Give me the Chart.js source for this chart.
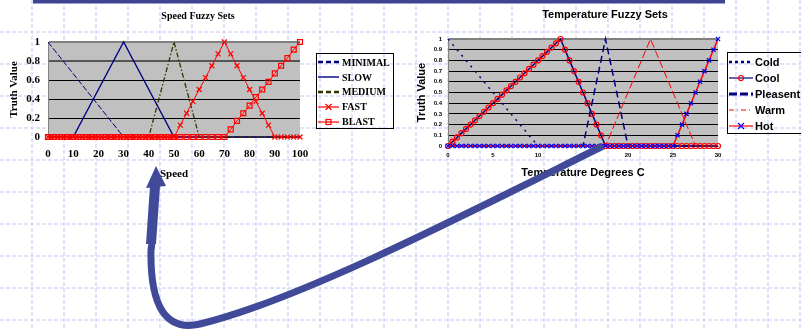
<!DOCTYPE html>
<html>
<head>
<meta charset="utf-8">
<script src="https://cdn.jsdelivr.net/npm/chart.js@4.4.1/dist/chart.umd.min.js"></script>
<style>
  html, body { margin: 0; padding: 0; width: 801px; height: 329px; overflow: hidden; background: #fff; }
  #bg, #arrow { position: absolute; left: 0; top: 0; }
  #arrow { z-index: 3; pointer-events: none; }
  #speedChart { position: absolute; left: 0; top: 0; z-index: 1; }
  #tempChart { position: absolute; left: 400px; top: 0; z-index: 1; }
  .legend { position: absolute; z-index: 2; box-sizing: border-box; border: 1px solid #000; }
  .legend .item { display: flex; align-items: center; white-space: nowrap; }
  .legend svg { flex: none; }
  #speedLegend { left: 316px; top: 53px; width: 78px; height: 76px; padding-top: 1px; padding-left: 1px;
    font: bold 10px 'Liberation Serif', 'Times New Roman', serif; }
  #speedLegend .item { height: 14.8px; }
  #speedLegend svg { margin-right: 3px; }
  #tempLegend { left: 727px; top: 52px; width: 92px; height: 82px; padding-top: 1px; padding-left: 1px;
    font: bold 11px 'Liberation Sans', Arial, sans-serif; }
  #tempLegend .item { height: 16px; }
  #tempLegend svg { margin-right: 2px; }
</style>
</head>
<body>
<svg id="bg" width="801" height="329"></svg>
<canvas id="speedChart" width="396" height="185"></canvas>
<canvas id="tempChart" width="410" height="185"></canvas>
<div id="speedLegend" class="legend"></div>
<div id="tempLegend" class="legend"></div>
<svg id="arrow" width="801" height="329">
  <path d="M603 146 C470 212 300 300 200 324 C165 332 150 305 151 250 L152 243" fill="none" stroke="#414a99" stroke-width="7"/>
  <polygon points="146,244 156,244 160,186 150,186" fill="#414a99"/>
  <polygon points="146,188 166,186 156,166" fill="#414a99"/>
</svg>
<script>
// ---- speed chart data ----
const speedTicks = [0, 10, 20, 30, 40, 50, 60, 70, 80, 90, 100];
const speedTruthTicks = [0, 0.2, 0.4, 0.6, 0.8, 1];
const speedNames = ['MINIMAL', 'SLOW', 'MEDIUM', 'FAST', 'BLAST'];

const minimalX = [0, 30, 100];
const minimalY = [1, 0, 0];
const slowX = [0, 10, 30, 50, 100];
const slowY = [0, 0, 1, 0, 0];
const mediumX = [0, 40, 50, 60, 100];
const mediumY = [0, 0, 1, 0, 0];

// FAST and BLAST have a marker on every sample
const speedSteps = [0, 2.5, 5, 7.5, 10, 12.5, 15, 17.5, 20, 22.5, 25, 27.5, 30, 32.5, 35, 37.5, 40, 42.5, 45, 47.5,
  50, 52.5, 55, 57.5, 60, 62.5, 65, 67.5, 70, 72.5, 75, 77.5, 80, 82.5, 85, 87.5, 90, 92.5, 95, 97.5, 100];
const fastY = [0, 0, 0, 0, 0, 0, 0, 0, 0, 0, 0, 0, 0, 0, 0, 0, 0, 0, 0, 0,
  0, 0.125, 0.25, 0.375, 0.5, 0.625, 0.75, 0.875, 1, 0.875, 0.75, 0.625, 0.5, 0.375, 0.25, 0.125, 0, 0, 0, 0, 0];
const blastY = [0, 0, 0, 0, 0, 0, 0, 0, 0, 0, 0, 0, 0, 0, 0, 0, 0, 0, 0, 0,
  0, 0, 0, 0, 0, 0, 0, 0, 0, 0.08, 0.17, 0.25, 0.33, 0.42, 0.5, 0.58, 0.67, 0.75, 0.83, 0.92, 1];

// ---- temperature chart data ----
const tempTicks = [0, 5, 10, 15, 20, 25, 30];
const tempTruthTicks = [0, 0.1, 0.2, 0.3, 0.4, 0.5, 0.6, 0.7, 0.8, 0.9, 1];
const tempNames = ['Cold', 'Cool', 'Pleasent', 'Warm', 'Hot'];

const coldX = [0, 10, 30];
const coldY = [1, 0, 0];
const pleasentX = [0, 15, 17.5, 20, 30];
const pleasentY = [0, 0, 1, 0, 0];
const warmX = [0, 17.5, 22.5, 27.5, 30];
const warmY = [0, 0, 1, 0, 0];

const tempSteps = [0, 0.5, 1, 1.5, 2, 2.5, 3, 3.5, 4, 4.5, 5, 5.5, 6, 6.5, 7, 7.5, 8, 8.5, 9, 9.5,
  10, 10.5, 11, 11.5, 12, 12.5, 13, 13.5, 14, 14.5, 15, 15.5, 16, 16.5, 17, 17.5, 18, 18.5, 19, 19.5,
  20, 20.5, 21, 21.5, 22, 22.5, 23, 23.5, 24, 24.5, 25, 25.5, 26, 26.5, 27, 27.5, 28, 28.5, 29, 29.5, 30];
const coolY = [0, 0.04, 0.08, 0.12, 0.16, 0.2, 0.24, 0.28, 0.32, 0.36, 0.4, 0.44, 0.48, 0.52, 0.56, 0.6,
  0.64, 0.68, 0.72, 0.76, 0.8, 0.84, 0.88, 0.92, 0.96, 1,
  0.9, 0.8, 0.7, 0.6, 0.5, 0.4, 0.3, 0.2, 0.1, 0,
  0, 0, 0, 0, 0, 0, 0, 0, 0, 0, 0, 0, 0, 0, 0, 0, 0, 0, 0, 0, 0, 0, 0, 0, 0];
const hotY = [0, 0, 0, 0, 0, 0, 0, 0, 0, 0, 0, 0, 0, 0, 0, 0, 0, 0, 0, 0, 0, 0, 0, 0, 0,
  0, 0, 0, 0, 0, 0, 0, 0, 0, 0, 0, 0, 0, 0, 0, 0, 0, 0, 0, 0, 0, 0, 0, 0, 0, 0,
  0.1, 0.2, 0.3, 0.4, 0.5, 0.6, 0.7, 0.8, 0.9, 1];

const SERIF = "'Liberation Serif', 'Times New Roman', serif";
const SANS = "'Liberation Sans', Arial, sans-serif";
const NAVY = '#000080';
const RED = '#ff0000';

const pts = (xs, ys) => xs.map((x, i) => ({ x: x, y: ys[i] }));

const speedSeries = [
  { data: pts(minimalX, minimalY), color: NAVY, width: 1, dash: [6, 2], legendWidth: 2.5, legendDash: [5, 3] },
  { data: pts(slowX, slowY), color: NAVY, width: 1.3, legendColor: '#4b4ba8', legendWidth: 2 },
  { data: pts(mediumX, mediumY), color: '#333300', width: 1.3, dash: [5, 2, 1.5, 2], legendWidth: 2.5, legendDash: [5, 3] },
  { data: pts(speedSteps, fastY), color: RED, width: 1, marker: 'crossRot', radius: 3.5, legendWidth: 1.2 },
  { data: pts(speedSteps, blastY), color: RED, width: 1, marker: 'rect', radius: 3.5, legendWidth: 1.2 }
];
speedSeries.forEach((s, i) => { s.label = speedNames[i]; });

const tempSeries = [
  { data: pts(coldX, coldY), color: NAVY, width: 1.5, dash: [2, 5], legendWidth: 2.5, legendDash: [3, 3] },
  { data: pts(tempSteps, coolY), color: NAVY, width: 1.5, marker: 'circle', markerColor: RED, radius: 2.5, legendWidth: 1.2 },
  { data: pts(pleasentX, pleasentY), color: NAVY, width: 1.5, dash: [7, 4], legendWidth: 3, legendDash: [8, 3] },
  { data: pts(warmX, warmY), color: RED, width: 1, dash: [8, 3], legendWidth: 1, legendDash: [5, 3, 1, 3] },
  { data: pts(tempSteps, hotY), color: RED, width: 1.5, marker: 'crossRot', markerColor: '#0000ff', radius: 3, legendWidth: 1.2 }
];
tempSeries.forEach((s, i) => { s.label = tempNames[i]; });

// Excel draws the last series on top; in Chart.js a lower order is drawn later
function toDataset(s, i, all) {
  return {
    label: s.label,
    data: s.data,
    showLine: true,
    borderColor: s.color,
    borderWidth: s.width,
    borderDash: s.dash || [],
    pointStyle: s.marker || 'circle',
    pointRadius: s.marker ? s.radius : 0,
    pointHoverRadius: s.marker ? s.radius : 0,
    pointBorderColor: s.markerColor || s.color,
    pointBackgroundColor: 'rgba(0,0,0,0)',
    pointBorderWidth: 1.2,
    order: all.length - i,
    clip: false
  };
}

const plotBg = {
  id: 'plotBg',
  beforeDraw(chart) {
    const { ctx, chartArea: a } = chart;
    ctx.save();
    ctx.fillStyle = '#c0c0c0';
    ctx.fillRect(a.left, a.top, a.right - a.left, a.bottom - a.top);
    ctx.restore();
  }
};

function makeChart(canvas, series, o) {
  return new Chart(canvas, {
    type: 'scatter',
    data: { datasets: series.map(toDataset) },
    options: {
      responsive: false,
      animation: false,
      devicePixelRatio: 1,
      plugins: {
        legend: { display: false },
        tooltip: { enabled: false },
        title: {
          display: true, text: o.title, color: '#000',
          font: { family: o.family, size: o.titleSize, weight: 'bold' },
          padding: o.titlePad
        }
      },
      scales: {
        x: {
          type: 'linear', min: o.xTicks[0], max: o.xTicks[o.xTicks.length - 1],
          afterBuildTicks: s => { s.ticks = o.xTicks.map(v => ({ value: v })); },
          afterFit: s => { s.height = o.xHeight; },
          grid: { display: false, drawTicks: false },
          border: { display: true, color: '#808080' },
          ticks: { color: '#000', autoSkip: false, maxRotation: 0, padding: o.xTickPad,
            font: { family: o.family, size: o.tickSize, weight: 'bold' } },
          title: { display: true, text: o.xTitle, color: '#000',
            font: { family: o.family, size: 11, weight: 'bold' }, padding: { top: 0, bottom: o.xTitlePad } }
        },
        y: {
          min: 0, max: 1,
          afterBuildTicks: s => { s.ticks = o.yTicks.map(v => ({ value: v })); },
          afterFit: s => { s.width = 48; },
          grid: {
            drawTicks: false,
            color: c => c.tick.value === 1 ? '#808080' : (c.tick.value === o.heavy ? '#555555' : '#000000'),
            lineWidth: c => (c.tick.value === 1 || c.tick.value === o.heavy) ? 2 : 1
          },
          border: { display: true, color: '#808080' },
          ticks: { color: '#000', autoSkip: false, padding: o.yTickPad, callback: v => String(v),
            font: { family: o.family, size: o.tickSize, weight: 'bold' } },
          title: { display: true, text: 'Truth Value', color: '#000',
            font: { family: o.family, size: 11, weight: 'bold' }, padding: { top: o.yTitlePad, bottom: 0 } }
        },
        // empty right-hand axis: keeps room for the legend while the title stays centred on the whole chart
        legendRoom: {
          type: 'linear', position: 'right', min: 0, max: 1,
          afterFit: s => { s.width = o.padRight; },
          ticks: { display: false }, grid: { display: false, drawTicks: false }, border: { display: false }
        }
      }
    },
    plugins: [plotBg]
  });
}

makeChart(document.getElementById('speedChart'), speedSeries, {
  title: 'Speed Fuzzy Sets', family: SERIF, titleSize: 10, titlePad: { top: 10, bottom: 20 },
  padRight: 96, xTicks: speedTicks, yTicks: speedTruthTicks, xHeight: 48, tickSize: 11,
  xTickPad: 11, xTitle: 'Speed', xTitlePad: 4.4, yTickPad: 8, yTitlePad: 7.4, heavy: 0.8
});

makeChart(document.getElementById('tempChart'), tempSeries, {
  title: 'Temperature Fuzzy Sets', family: SANS, titleSize: 11, titlePad: { top: 8.4, bottom: 17.4 },
  padRight: 92, xTicks: tempTicks, yTicks: tempTruthTicks, xHeight: 39, tickSize: 6,
  xTickPad: 5.4, xTitle: 'Temperature Degrees C', xTitlePad: 5.4, yTickPad: 6, yTitlePad: 15.4, heavy: null
});

// legends with Excel style line samples
function buildLegend(el, series, w) {
  series.forEach(s => {
    const cx = w / 2, cy = 5;
    const mc = s.markerColor || s.color;
    let mark = '';
    if (s.marker === 'crossRot') {
      mark = `<path d="M${cx - 3} ${cy - 3}L${cx + 3} ${cy + 3}M${cx - 3} ${cy + 3}L${cx + 3} ${cy - 3}" stroke="${mc}" stroke-width="1.2"/>`;
    } else if (s.marker === 'rect') {
      mark = `<rect x="${cx - 2.5}" y="${cy - 2.5}" width="5" height="5" fill="none" stroke="${mc}" stroke-width="1.2"/>`;
    } else if (s.marker === 'circle') {
      mark = `<circle cx="${cx}" cy="${cy}" r="2.5" fill="none" stroke="${mc}" stroke-width="1.2"/>`;
    }
    const dash = s.legendDash ? ` stroke-dasharray="${s.legendDash.join(' ')}"` : '';
    const row = document.createElement('div');
    row.className = 'item';
    row.innerHTML = `<svg width="${w}" height="10"><line x1="0" y1="5" x2="${w}" y2="5" stroke="${s.legendColor || s.color}" stroke-width="${s.legendWidth}"${dash}/>${mark}</svg><span>${s.label}</span>`;
    el.appendChild(row);
  });
}
buildLegend(document.getElementById('speedLegend'), speedSeries, 21);
buildLegend(document.getElementById('tempLegend'), tempSeries, 24);

// slide background: dashed light blue grid and the header bar
const bg = document.getElementById('bg');
let grid = '';
for (let x = 32; x < 801; x += 32) grid += `<line x1="${x}" y1="0" x2="${x}" y2="329"/>`;
for (let y = 32; y < 329; y += 32) grid += `<line x1="0" y1="${y}" x2="801" y2="${y}"/>`;
bg.innerHTML = `<g stroke="#d3dcf5" stroke-width="1.5" stroke-dasharray="4 2">${grid}</g>` +
  '<rect x="33" y="0" width="692" height="3.5" fill="#3d4593"/>';
</script>
</body>
</html>
